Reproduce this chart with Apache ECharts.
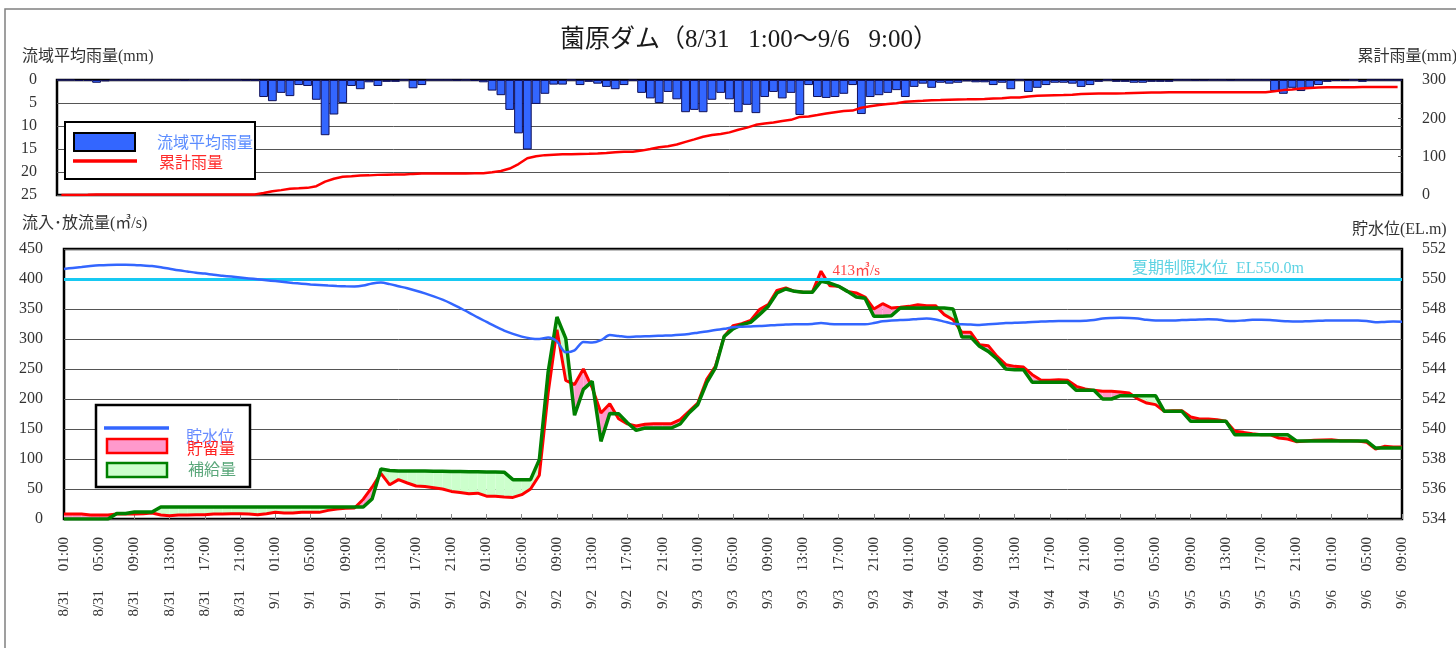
<!DOCTYPE html>
<html>
<head>
<meta charset="utf-8">
<title>薗原ダム</title>
<script src="https://cdn.jsdelivr.net/npm/echarts/dist/echarts.min.js"></script>
<style>
  html, body { margin: 0; padding: 0; background: #fff; }
  #chart { width: 1456px; height: 648px; }
</style>
</head>
<body>
<div id="chart"></div>
<script>
// Hourly time stamps: 8/31 01:00 → 9/6 09:00 (153 hours)
const categories = [];
(function () {
  let m = 8, d = 31, h = 1;
  for (let k = 0; k < 153; k++) {
    categories.push(m + '/' + d + '     ' + (h < 10 ? '0' : '') + h + ':00');
    h++;
    if (h === 24) { h = 0; d++; if (m === 8 && d === 32) { m = 9; d = 1; } }
  }
})();

// 流域平均雨量 (mm/h)
const rain = [
  0, 0, 0.2, 0.2, 0.6, 0.3, 0, 0, 0, 0,
  0, 0, 0, 0, 0.1, 0, 0, 0, 0, 0,
  0, 0.1, 0.1, 3.7, 4.6, 2.8, 3.5, 1.1, 1.3, 4.3,
  12.0, 7.5, 5.0, 1.3, 2.0, 0.5, 1.3, 0.4, 0.4, 0,
  1.8, 1.1, 0, 0, 0, 0.1, 0, 0.2, 0.5, 2.3,
  3.3, 6.5, 11.6, 15.1, 5.2, 3.0, 1.0, 1.0, 0, 1.1,
  0.4, 0.8, 1.5, 2.0, 1.1, 0.1, 2.8, 4.0, 5.0, 2.6,
  4.2, 7.0, 6.5, 7.0, 4.3, 2.8, 4.2, 7.0, 5.4, 7.2,
  3.7, 2.6, 4.0, 2.8, 7.6, 1.1, 3.7, 3.9, 3.7, 3.0,
  1.1, 7.4, 3.7, 3.3, 2.8, 2.2, 3.7, 1.5, 0.8, 1.7,
  0.6, 0.8, 0.6, 0.3, 0.5, 0.5, 1.1, 0.6, 2.0, 0,
  2.6, 1.7, 1.1, 0.6, 0.6, 0.8, 1.5, 1.1, 0.4, 0,
  0.4, 0.4, 0.6, 0.6, 0.4, 0.4, 0.4, 0, 0, 0.1,
  0.1, 0, 0, 0.1, 0, 0, 0, 0, 2.4, 3.0,
  1.7, 2.4, 1.7, 1.1, 0.4, 0.2, 0.2, 0, 0.4, 0,
  0, 0, 0
];

// 累計雨量 (mm)
const cumRain = [
  0, 0, 0.2, 0.4, 1.0, 1.3, 1.3, 1.3, 1.3, 1.3,
  1.3, 1.3, 1.3, 1.3, 1.4, 1.4, 1.4, 1.4, 1.4, 1.4,
  1.4, 1.5, 1.6, 5.3, 9.9, 12.7, 16.2, 17.3, 18.6, 22.9,
  34.9, 42.4, 47.4, 48.7, 50.7, 51.2, 52.5, 52.9, 53.3, 53.3,
  55.1, 56.2, 56.2, 56.2, 56.2, 56.3, 56.3, 56.5, 57.0, 59.3,
  62.6, 69.1, 80.7, 95.8, 101.0, 104.0, 105.0, 106.0, 106.0, 107.1,
  107.5, 108.3, 109.8, 111.8, 112.9, 113.0, 115.8, 119.8, 124.8, 127.4,
  131.6, 138.6, 145.1, 152.1, 156.4, 159.2, 163.4, 170.4, 175.8, 183.0,
  186.7, 189.3, 193.3, 196.1, 203.7, 204.8, 208.5, 212.4, 216.1, 219.1,
  220.2, 227.6, 231.3, 234.6, 237.4, 239.6, 243.3, 244.8, 245.6, 247.3,
  247.9, 248.7, 249.3, 249.6, 250.1, 250.6, 251.7, 252.3, 254.3, 254.3,
  256.9, 258.6, 259.7, 260.3, 260.9, 261.7, 263.2, 264.3, 264.7, 264.7,
  265.1, 265.5, 266.1, 266.7, 267.1, 267.5, 267.9, 267.9, 267.9, 268.0,
  268.1, 268.1, 268.1, 268.2, 268.2, 268.2, 268.2, 268.2, 270.6, 273.6,
  275.3, 277.7, 279.4, 280.5, 280.9, 281.1, 281.3, 281.3, 281.7, 281.7,
  281.7, 281.7, 281.7
];

// 貯水位 (EL.m)
const storageLevel = [
  550.67, 550.74, 550.80, 550.86, 550.91, 550.94, 550.95, 550.95, 550.94, 550.90,
  550.86, 550.78, 550.68, 550.58, 550.50, 550.42, 550.36, 550.28, 550.22, 550.16,
  550.10, 550.04, 549.98, 549.92, 549.86, 549.80, 549.74, 549.69, 549.64, 549.60,
  549.56, 549.53, 549.51, 549.50, 549.56, 549.70, 549.76, 549.66, 549.52, 549.38,
  549.22, 549.04, 548.84, 548.62, 548.36, 548.06, 547.76, 547.44, 547.14, 546.84,
  546.56, 546.34, 546.16, 546.04, 546.00, 546.10, 545.84, 545.12, 545.24, 545.80,
  545.76, 545.92, 546.26, 546.20, 546.14, 546.16, 546.18, 546.20, 546.22, 546.24,
  546.28, 546.34, 546.42, 546.50, 546.60, 546.68, 546.78, 546.82, 546.84, 546.86,
  546.90, 546.94, 546.96, 546.98, 546.98, 547.00, 547.06, 547.00, 546.98, 546.98,
  546.98, 546.98, 547.06, 547.18, 547.24, 547.26, 547.28, 547.34, 547.36, 547.30,
  547.16, 547.02, 546.98, 546.96, 546.94, 546.98, 547.02, 547.06, 547.08, 547.10,
  547.14, 547.16, 547.18, 547.20, 547.20, 547.20, 547.22, 547.26, 547.36, 547.40,
  547.42, 547.40, 547.36, 547.28, 547.24, 547.24, 547.24, 547.26, 547.28, 547.30,
  547.32, 547.30, 547.22, 547.20, 547.24, 547.28, 547.28, 547.26, 547.22, 547.18,
  547.16, 547.18, 547.20, 547.22, 547.24, 547.24, 547.24, 547.24, 547.20, 547.12,
  547.14, 547.16, 547.15
];

// 流入量 (m3/s)
const inflow = [
  8.3, 8.3, 8.3, 6.7, 6.7, 6.7, 8.3, 8.3, 8.3, 8.9,
  10, 6.7, 5.6, 6.7, 6.7, 7.2, 7.2, 8.3, 8.3, 8.9,
  8.9, 8.3, 7.2, 8.9, 11.1, 10, 10, 11.1, 11.1, 11.1,
  14.4, 16.7, 17.8, 18.3, 33, 53, 76, 57, 65.6, 60,
  55, 54, 52, 50, 46, 44, 42, 43, 38, 38,
  36.7, 36, 40.6, 50, 73, 210, 315.6, 231, 224, 250,
  219, 176.7, 192, 167, 158.5, 155, 158, 158.9, 158.9, 158.9,
  165.6, 179.4, 193.3, 232.2, 254.4, 304.4, 322.2, 325.6, 331, 348.9,
  357.2, 381.1, 385, 379.4, 377.8, 377.8, 413, 388.9, 387.8, 379.4,
  376.7, 370, 350, 358.9, 351.7, 352.8, 354.4, 357.2, 355.6, 355.6,
  340.6, 332.2, 311.1, 311.1, 290.6, 288.9, 271.1, 257.2, 254.4, 253.3,
  240.6, 231.1, 231.1, 232.2, 231.1, 221.1, 216.7, 214.4, 212.8, 212.8,
  211.7, 210, 200, 193.3, 190.6, 179.4, 180.6, 180.6, 170, 166.7,
  166.7, 165.6, 162.8, 146.1, 144.4, 142.2, 140.6, 140.6, 135, 133.3,
  128.9, 130, 131.1, 131.7, 132.2, 130.6, 130.6, 130, 127.8, 116.7,
  121.1, 120, 120
];

// 放流量 (m3/s)
const outflow = [
  0, 0, 0, 0, 0, 0, 9, 9, 11.5, 11.5,
  11.5, 20, 20, 20, 20, 20, 20, 20, 20, 20,
  20, 20, 20, 20, 20, 20, 20, 20, 20, 20,
  20, 20, 20, 20, 20, 33.5, 83.3, 81, 80, 80,
  80, 79.8, 79.6, 79.4, 79.2, 79, 78.8, 78.6, 78.4, 78.2,
  78, 65.6, 65.6, 65.6, 99, 245, 336.7, 301, 173, 216,
  229.4, 129.4, 176, 175.6, 160.5, 147.8, 151.7, 151.7, 151.7, 151.7,
  158.3, 176.7, 190.6, 226.7, 251.7, 304.4, 316.7, 323.9, 327.8, 340.6,
  354.4, 376.7, 383.3, 379.4, 377.8, 377.8, 396.1, 393.3, 387.8, 379.4,
  370, 367.8, 337.8, 337.8, 338.9, 351.7, 351.7, 351.7, 351.7, 351.7,
  351.7, 350, 303.3, 303.3, 287.8, 279.4, 266.7, 250, 248.9, 248.9,
  227.8, 227.8, 227.8, 228, 228, 214.4, 214.4, 214.4, 200, 200,
  205.6, 205.6, 205.6, 205.6, 205.6, 179.4, 179.4, 179.4, 162.8, 162.8,
  162.8, 162.8, 162.8, 140.6, 140.6, 140.6, 140.6, 140.6, 140.6, 140.6,
  130, 130, 130, 130, 130, 130, 130, 130, 130, 118.3,
  118.3, 118.3, 118.3
];

// 夏期制限水位 (EL.m)
const summerLimitLevel = 550.0;

const FONT = "'Liberation Serif', 'Noto Sans CJK JP', serif";
const PINK = '#ff99cc';
const LIGHT_GREEN = '#ccffcc';

const peakIndex = inflow.indexOf(Math.max.apply(null, inflow));

// Storage (inflow above outflow) / supply (outflow above inflow) bands, segment by segment
const gapData = inflow.slice(0, -1).map((v, i) => [i, v, outflow[i]]);
function renderGap(params, api) {
  const i = api.value(0);
  const r0 = inflow[i], g0 = outflow[i], r1 = inflow[i + 1], g1 = outflow[i + 1];
  const d0 = r0 - g0, d1 = r1 - g1;
  const R0 = api.coord([i, r0]), G0 = api.coord([i, g0]);
  const R1 = api.coord([i + 1, r1]), G1 = api.coord([i + 1, g1]);
  const fillOf = d => (d > 0 ? PINK : LIGHT_GREEN);
  const poly = (pts, fill) => ({ type: 'polygon', shape: { points: pts }, style: { fill: fill, stroke: null } });
  const kids = [];
  if (d0 * d1 >= 0) {
    if (d0 !== 0 || d1 !== 0) kids.push(poly([R0, R1, G1, G0], fillOf(d0 + d1)));
  } else {
    const t = d0 / (d0 - d1);
    const C = [R0[0] + t * (R1[0] - R0[0]), R0[1] + t * (R1[1] - R0[1])];
    kids.push(poly([R0, C, G0], fillOf(d0)));
    kids.push(poly([C, R1, G1], fillOf(d1)));
  }
  return { type: 'group', children: kids };
}

const tickLabelStyle = { fontFamily: FONT, fontSize: 16, color: '#333' };

const chart = echarts.init(document.getElementById('chart'), null, { renderer: 'canvas' });
chart.setOption({
  animation: false,
  backgroundColor: '#ffffff',
  textStyle: { fontFamily: FONT },
  grid: [
    { left: 57, right: 54, top: 80, height: 115, show: true, borderColor: '#000', borderWidth: 2.5,
      backgroundColor: 'transparent', containLabel: false, outerBoundsMode: 'none' },
    { left: 64, right: 54, top: 249, height: 270, show: true, borderColor: '#000', borderWidth: 2.5,
      backgroundColor: 'transparent', containLabel: false, outerBoundsMode: 'none' }
  ],
  xAxis: [
    { type: 'category', gridIndex: 0, data: categories, boundaryGap: true,
      axisLine: { show: false }, axisTick: { show: false }, axisLabel: { show: false }, splitLine: { show: false } },
    { type: 'category', gridIndex: 1, data: categories, boundaryGap: false,
      axisLine: { show: false },
      axisTick: { show: true, inside: true, interval: 3, length: 5, lineStyle: { color: '#888', width: 1 } },
      axisLabel: { interval: 3, rotate: 90, margin: 18, fontFamily: FONT, fontSize: 15, color: '#333' },
      splitLine: { show: false } }
  ],
  yAxis: [
    { type: 'value', gridIndex: 0, inverse: true, min: 0, max: 25, interval: 5,
      axisLine: { show: false }, axisTick: { show: false },
      axisLabel: Object.assign({ margin: 20 }, tickLabelStyle),
      splitLine: { show: true, lineStyle: { color: '#555', width: 1 } } },
    { type: 'value', gridIndex: 0, position: 'right', min: 0, max: 300, interval: 100,
      axisLine: { show: false },
      axisTick: { show: true, inside: true, length: 4, lineStyle: { color: '#555' } },
      axisLabel: Object.assign({ margin: 20 }, tickLabelStyle),
      splitLine: { show: false } },
    { type: 'value', gridIndex: 1, min: 0, max: 450, interval: 50,
      axisLine: { show: false }, axisTick: { show: false },
      axisLabel: Object.assign({ margin: 21 }, tickLabelStyle),
      splitLine: { show: true, lineStyle: { color: '#555', width: 1 } } },
    { type: 'value', gridIndex: 1, position: 'right', min: 534, max: 552, interval: 2,
      axisLine: { show: false },
      axisTick: { show: true, inside: true, length: 4, lineStyle: { color: '#555' } },
      axisLabel: Object.assign({ margin: 20 }, tickLabelStyle),
      splitLine: { show: false } }
  ],
  series: [
    { name: '流域平均雨量', type: 'bar', xAxisIndex: 0, yAxisIndex: 0, data: rain,
      barCategoryGap: '0%', barGap: '0%',
      itemStyle: { color: '#3366ff', borderColor: '#10105a', borderWidth: 1 }, z: 2 },
    { name: '累計雨量', type: 'line', xAxisIndex: 0, yAxisIndex: 1, data: cumRain,
      symbol: 'none', lineStyle: { color: '#ff0000', width: 2.5 }, z: 3 },
    { name: '夏期制限水位', type: 'line', xAxisIndex: 1, yAxisIndex: 3, data: [], z: 1,
      markLine: {
        silent: true, symbol: ['none', 'none'], animation: false,
        lineStyle: { color: '#17c9f2', width: 3, type: 'solid' },
        label: { show: true, position: 'insideEndTop', distance: 2, padding: [0, 96, 0, 0],
          formatter: '夏期制限水位  EL' + summerLimitLevel.toFixed(1) + 'm',
          color: '#5fd3e3', fontFamily: FONT, fontSize: 16 },
        data: [{ yAxis: summerLimitLevel }]
      } },
    { name: '貯留量・補給量', type: 'custom', xAxisIndex: 1, yAxisIndex: 2, data: gapData,
      encode: { x: 0, y: [1, 2] }, renderItem: renderGap, z: 2, silent: true },
    { name: '流入量', type: 'line', xAxisIndex: 1, yAxisIndex: 2, data: inflow,
      symbol: 'none', lineStyle: { color: '#ff0000', width: 3 }, z: 3,
      markPoint: {
        silent: true, symbol: 'circle', symbolSize: 1, itemStyle: { color: 'rgba(0,0,0,0)' },
        label: { show: true, position: 'right', distance: 11,
          formatter: p => p.value + '㎥/s', color: '#ff4545', fontFamily: FONT, fontSize: 15 },
        data: [{ coord: [peakIndex, inflow[peakIndex]], value: inflow[peakIndex] }]
      } },
    { name: '放流量', type: 'line', xAxisIndex: 1, yAxisIndex: 2, data: outflow,
      symbol: 'none', lineStyle: { color: '#008000', width: 3.5 }, z: 4 },
    { name: '貯水位', type: 'line', xAxisIndex: 1, yAxisIndex: 3, data: storageLevel,
      symbol: 'none', smooth: 0.3, lineStyle: { color: '#3366ff', width: 2.5 }, z: 5 }
  ],
  graphic: [
    // outer frame
    { type: 'rect', z: 0, shape: { x: 5, y: 9, width: 1480, height: 680 },
      style: { fill: 'none', stroke: '#808080', lineWidth: 1.5 } },
    { type: 'text', z: 100, style: { text: '薗原ダム（8/31   1:00～9/6   9:00）', x: 749, y: 40,
      textAlign: 'center', textVerticalAlign: 'middle', font: '25px ' + FONT, fill: '#1a1a1a' } },
    { type: 'text', z: 100, style: { text: '流域平均雨量(mm)', x: 22, y: 57,
      textAlign: 'left', textVerticalAlign: 'middle', font: '16px ' + FONT, fill: '#333' } },
    { type: 'text', z: 100, style: { text: '累計雨量(mm)', x: 1457, y: 57,
      textAlign: 'right', textVerticalAlign: 'middle', font: '16px ' + FONT, fill: '#333' } },
    { type: 'text', z: 100, style: { text: '流入･放流量(㎥/s)', x: 22, y: 224,
      textAlign: 'left', textVerticalAlign: 'middle', font: '16px ' + FONT, fill: '#333' } },
    { type: 'text', z: 100, style: { text: '貯水位(EL.m)', x: 1352, y: 230,
      textAlign: 'left', textVerticalAlign: 'middle', font: '16px ' + FONT, fill: '#333' } },

    // rainfall legend
    { type: 'rect', z: 100, shape: { x: 65, y: 122, width: 190, height: 57 },
      style: { fill: '#fff', stroke: '#000', lineWidth: 2 } },
    { type: 'rect', z: 101, shape: { x: 74, y: 133, width: 61, height: 18 },
      style: { fill: '#3366ff', stroke: '#000', lineWidth: 2 } },
    { type: 'line', z: 101, shape: { x1: 73, y1: 161, x2: 137, y2: 161 },
      style: { stroke: '#ff0000', lineWidth: 3.5 } },
    { type: 'text', z: 101, style: { text: '流域平均雨量', x: 157, y: 144,
      textAlign: 'left', textVerticalAlign: 'middle', font: '16px ' + FONT, fill: '#5b8cff' } },
    { type: 'text', z: 101, style: { text: '累計雨量', x: 159, y: 164,
      textAlign: 'left', textVerticalAlign: 'middle', font: '16px ' + FONT, fill: '#ff2a2a' } },

    // flow legend
    { type: 'rect', z: 100, shape: { x: 96, y: 405, width: 154, height: 82 },
      style: { fill: '#fff', stroke: '#000', lineWidth: 2.5 } },
    { type: 'line', z: 101, shape: { x1: 104, y1: 428, x2: 169, y2: 428 },
      style: { stroke: '#3366ff', lineWidth: 3.5 } },
    { type: 'rect', z: 101, shape: { x: 107, y: 439, width: 60, height: 14 },
      style: { fill: PINK, stroke: '#ff0000', lineWidth: 2.5 } },
    { type: 'rect', z: 101, shape: { x: 107, y: 463, width: 60, height: 14 },
      style: { fill: LIGHT_GREEN, stroke: '#008000', lineWidth: 2.5 } },
    { type: 'text', z: 101, style: { text: '貯水位', x: 186, y: 438,
      textAlign: 'left', textVerticalAlign: 'middle', font: '16px ' + FONT, fill: '#6a8dff' } },
    { type: 'text', z: 101, style: { text: '貯留量', x: 187, y: 450,
      textAlign: 'left', textVerticalAlign: 'middle', font: '16px ' + FONT, fill: '#ff2020' } },
    { type: 'text', z: 101, style: { text: '補給量', x: 188, y: 471,
      textAlign: 'left', textVerticalAlign: 'middle', font: '16px ' + FONT, fill: '#5aa77a' } }
  ]
});
</script>
</body>
</html>
